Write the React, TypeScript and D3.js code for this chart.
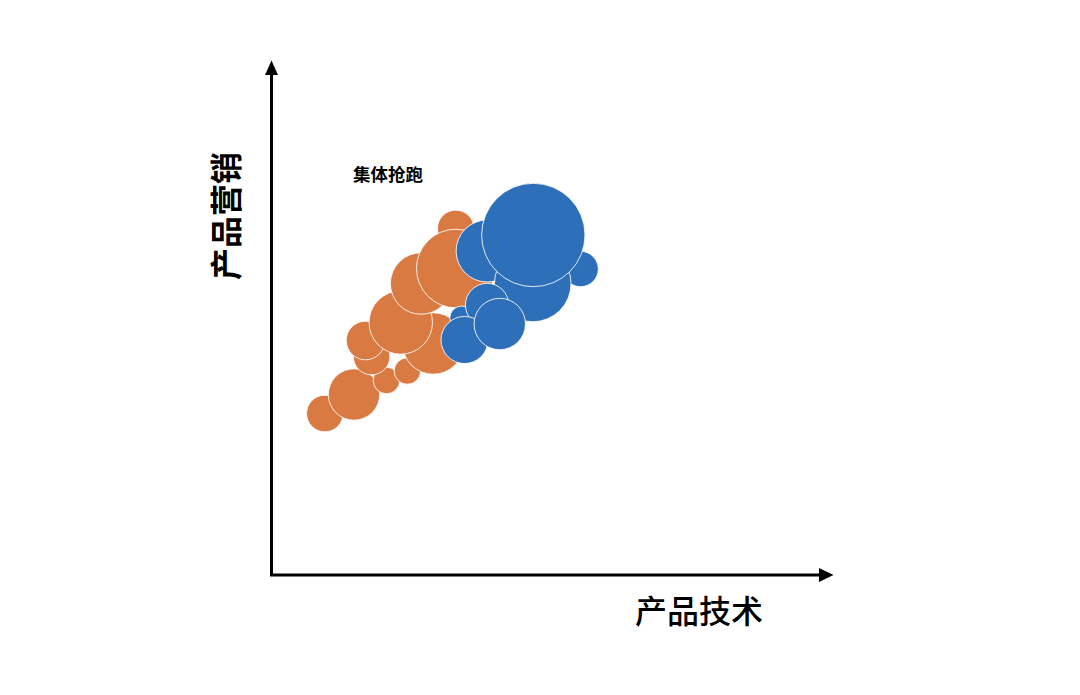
import { useEffect, useRef } from 'react';
import * as d3 from 'd3';

// bubble series: x = 产品技术, y = 产品营销, size = bubble value
const orangeX = [0.97, 1.5, 2.09, 2.47, 1.82, 1.71, 2.94, 2.35, 3.35, 2.72, 3.35];
const orangeY = [3.23, 3.61, 3.89, 4.08, 4.37, 4.69, 4.63, 5.05, 6.93, 5.83, 6.13];
const orangeSize = [12.4, 24.4, 6.5, 6.5, 12.4, 13.8, 34.9, 37.2, 12.4, 34.9, 57.1];

const blueX = [3.46, 5.62, 3.92, 4.75, 4.76, 3.92, 3.51, 4.15];
const blueY = [5.14, 6.12, 6.48, 5.83, 6.8, 5.4, 4.7, 5.02];
const blueSize = [5.3, 11.6, 35.5, 54.2, 98.8, 17.4, 20.5, 24.4];

const xLabel = '产品技术';
const yLabel = '产品营销';
const note = '集体抢跑';

const W = 1080;
const H = 695;

export default function App() {
  const svgRef = useRef<SVGSVGElement>(null);

  useEffect(() => {
    document.body.style.margin = '0';
    if (!svgRef.current) return;
    const svg = d3.select(svgRef.current);
    svg.selectAll('*').remove();

    const font = '"Noto Sans CJK SC", "Noto Sans", sans-serif';

    const x = d3.scaleLinear().domain([0, 10]).range([271.5, 821.5]);
    const y = d3.scaleLinear().domain([0, 10]).range([575, 75]);
    const r = d3.scaleSqrt().domain([0, 100]).range([0, 52]);

    svg.append('rect').attr('width', W).attr('height', H).attr('fill', '#fff');

    const series = [
      { color: '#DA7A43', xs: orangeX, ys: orangeY, sizes: orangeSize },
      { color: '#2E6FBA', xs: blueX, ys: blueY, sizes: blueSize },
    ];

    series.forEach(s => {
      const pts = s.xs.map((v, i) => ({ x: v, y: s.ys[i], size: s.sizes[i] }));
      svg.append('g')
        .selectAll('circle')
        .data(pts)
        .enter()
        .append('circle')
        .attr('cx', d => x(d.x))
        .attr('cy', d => y(d.y))
        .attr('r', d => r(d.size))
        .attr('fill', s.color)
        .attr('stroke', 'rgba(255,255,255,0.85)')
        .attr('stroke-width', 1);
    });

    // axes with arrow heads
    const x0 = x(0);
    const y0 = y(0);
    svg.append('path')
      .attr('d', `M${x0},74 L${x0},${y0} L820,${y0}`)
      .attr('fill', 'none')
      .attr('stroke', '#000')
      .attr('stroke-width', 3);
    svg.append('path')
      .attr('d', `M${x0},60.5 L${x0 - 6.5},75 L${x0 + 6.5},75 Z`)
      .attr('fill', '#000');
    svg.append('path')
      .attr('d', `M833.5,${y0} L819,${y0 - 7} L819,${y0 + 7} Z`)
      .attr('fill', '#000');

    svg.append('text')
      .attr('x', 699)
      .attr('y', 623)
      .attr('text-anchor', 'middle')
      .style('font-family', font)
      .style('font-size', '32px')
      .style('font-weight', 500)
      .text(xLabel);

    svg.append('text')
      .attr('transform', 'translate(238,216) rotate(-90)')
      .attr('text-anchor', 'middle')
      .style('font-family', font)
      .style('font-size', '32px')
      .style('font-weight', 'bold')
      .text(yLabel);

    svg.append('text')
      .attr('x', 388)
      .attr('y', 181)
      .attr('text-anchor', 'middle')
      .style('font-family', font)
      .style('font-size', '17.5px')
      .style('font-weight', 'bold')
      .text(note);
  }, []);

  return <svg ref={svgRef} width={W} height={H} style={{ display: 'block' }} />;
}
